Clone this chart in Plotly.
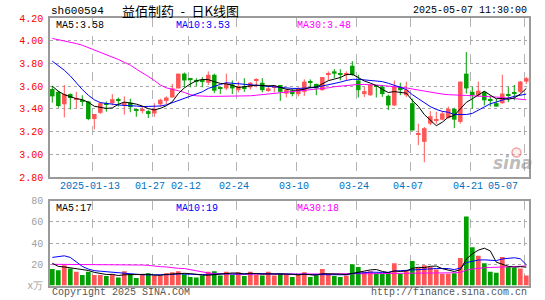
import plotly.graph_objects as go

dates = ["2025-01-02","2025-01-03","2025-01-06","2025-01-07","2025-01-08","2025-01-09","2025-01-10","2025-01-13","2025-01-14","2025-01-15",
 "2025-01-16","2025-01-17","2025-01-20","2025-01-21","2025-01-22","2025-01-23","2025-01-24","2025-01-27","2025-02-05","2025-02-06",
 "2025-02-07","2025-02-10","2025-02-11","2025-02-12","2025-02-13","2025-02-14","2025-02-17","2025-02-18","2025-02-19","2025-02-20",
 "2025-02-21","2025-02-24","2025-02-25","2025-02-26","2025-02-27","2025-02-28","2025-03-03","2025-03-04","2025-03-05","2025-03-06",
 "2025-03-07","2025-03-10","2025-03-11","2025-03-12","2025-03-13","2025-03-14","2025-03-17","2025-03-18","2025-03-19","2025-03-20",
 "2025-03-21","2025-03-24","2025-03-25","2025-03-26","2025-03-27","2025-03-28","2025-03-31","2025-04-01","2025-04-02","2025-04-03",
 "2025-04-07","2025-04-08","2025-04-09","2025-04-10","2025-04-11","2025-04-14","2025-04-15","2025-04-16","2025-04-17","2025-04-18",
 "2025-04-21","2025-04-22","2025-04-23","2025-04-24","2025-04-25","2025-04-28","2025-04-29","2025-04-30","2025-05-06","2025-05-07"]

opens = [3.575,3.55,3.44,3.53,3.48,3.48,3.465,3.31,3.365,3.445,
 3.45,3.475,3.44,3.455,3.395,3.38,3.38,3.36,3.44,3.47,
 3.50,3.58,3.71,3.66,3.645,3.645,3.63,3.70,3.585,3.58,
 3.615,3.565,3.595,3.59,3.65,3.63,3.565,3.59,3.61,3.535,
 3.56,3.53,3.55,3.635,3.62,3.565,3.70,3.73,3.705,3.70,
 3.78,3.65,3.53,3.52,3.60,3.595,3.515,3.43,3.595,3.52,
 3.45,3.17,3.11,3.27,3.30,3.305,3.32,3.40,3.285,3.71,
 3.55,3.52,3.55,3.475,3.45,3.45,3.525,3.54,3.55,3.64]

highs = [3.60,3.56,3.61,3.535,3.55,3.52,3.47,3.355,3.46,3.465,
 3.53,3.50,3.51,3.49,3.40,3.42,3.39,3.45,3.49,3.51,
 3.62,3.71,3.72,3.66,3.67,3.68,3.73,3.71,3.585,3.71,
 3.65,3.64,3.67,3.635,3.67,3.67,3.61,3.61,3.61,3.58,
 3.58,3.59,3.66,3.66,3.62,3.68,3.73,3.75,3.75,3.73,
 3.82,3.70,3.595,3.615,3.61,3.61,3.525,3.65,3.63,3.64,
 3.49,3.27,3.24,3.38,3.375,3.38,3.42,3.41,3.64,3.90,
 3.595,3.64,3.555,3.52,3.49,3.70,3.595,3.61,3.645,3.68]

lows = [3.455,3.41,3.325,3.395,3.405,3.425,3.30,3.22,3.355,3.375,
 3.43,3.42,3.35,3.37,3.33,3.36,3.32,3.33,3.42,3.44,
 3.50,3.58,3.59,3.59,3.60,3.59,3.61,3.54,3.53,3.565,
 3.53,3.545,3.55,3.57,3.59,3.545,3.55,3.545,3.47,3.50,
 3.51,3.51,3.515,3.59,3.52,3.56,3.65,3.67,3.65,3.645,
 3.69,3.50,3.505,3.515,3.50,3.505,3.39,3.425,3.52,3.505,
 3.21,3.08,2.93,3.255,3.27,3.30,3.315,3.23,3.27,3.535,
 3.40,3.505,3.43,3.42,3.42,3.445,3.46,3.475,3.535,3.62]

closes = [3.51,3.425,3.53,3.495,3.49,3.465,3.31,3.355,3.45,3.44,
 3.485,3.47,3.455,3.415,3.385,3.40,3.355,3.40,3.48,3.50,
 3.58,3.71,3.65,3.655,3.64,3.64,3.70,3.56,3.58,3.62,
 3.58,3.60,3.58,3.63,3.655,3.565,3.58,3.60,3.55,3.565,
 3.53,3.58,3.64,3.63,3.58,3.68,3.71,3.71,3.70,3.705,
 3.70,3.565,3.556,3.61,3.595,3.53,3.43,3.595,3.565,3.57,
 3.21,3.175,3.23,3.335,3.31,3.36,3.40,3.305,3.64,3.58,
 3.52,3.56,3.475,3.47,3.42,3.535,3.52,3.535,3.64,3.67]

ma5 = [3.60,3.555,3.525,3.505,3.49,3.481,3.458,3.423,3.414,3.404,
 3.408,3.44,3.46,3.453,3.442,3.425,3.402,3.391,3.404,3.427,
 3.463,3.534,3.584,3.619,3.647,3.659,3.657,3.639,3.624,3.62,
 3.608,3.588,3.592,3.602,3.609,3.606,3.602,3.606,3.59,3.572,
 3.565,3.565,3.573,3.589,3.592,3.622,3.648,3.662,3.676,3.701,
 3.705,3.676,3.645,3.627,3.605,3.571,3.544,3.552,3.543,3.538,
 3.474,3.423,3.35,3.304,3.252,3.282,3.327,3.342,3.403,3.457,
 3.489,3.521,3.555,3.521,3.489,3.492,3.484,3.496,3.53,3.58]

ma10 = [3.82,3.78,3.74,3.69,3.63,3.57,3.52,3.48,3.455,3.447,
 3.44,3.435,3.43,3.43,3.425,3.42,3.42,3.42,3.425,3.435,
 3.455,3.47,3.49,3.51,3.53,3.55,3.58,3.60,3.615,3.63,
 3.625,3.62,3.615,3.61,3.61,3.605,3.60,3.595,3.59,3.585,
 3.58,3.58,3.58,3.585,3.59,3.60,3.61,3.62,3.635,3.65,
 3.66,3.66,3.655,3.655,3.65,3.64,3.625,3.61,3.59,3.57,
 3.525,3.49,3.455,3.42,3.395,3.378,3.37,3.35,3.35,3.35,
 3.36,3.39,3.42,3.445,3.46,3.48,3.495,3.51,3.52,3.53]

ma30 = [4.02,4.01,4.00,3.99,3.975,3.96,3.94,3.92,3.90,3.88,
 3.855,3.835,3.81,3.785,3.75,3.72,3.685,3.65,3.61,3.585,
 3.575,3.56,3.545,3.525,3.515,3.51,3.51,3.51,3.51,3.51,
 3.51,3.51,3.512,3.515,3.52,3.525,3.535,3.54,3.545,3.55,
 3.555,3.56,3.565,3.565,3.57,3.575,3.585,3.595,3.60,3.61,
 3.615,3.615,3.615,3.615,3.61,3.605,3.60,3.60,3.595,3.585,
 3.575,3.565,3.555,3.545,3.535,3.53,3.525,3.52,3.52,3.518,
 3.516,3.515,3.51,3.507,3.504,3.50,3.495,3.49,3.485,3.48]

volumes = [15.5,14.5,19,16,13,10,13,10,10,9,
 10.5,7.5,13.5,10.5,7,10.5,11.5,9.5,9.5,11.5,
 12.5,13.5,10.5,8,7.5,9.5,13,13.5,9.5,13,
 10,12.5,9,13,10,9.5,13,9.5,11.5,10.5,
 8,10.5,12.5,8,9.5,15.5,10.5,9,8,9.5,
 20,17.5,13,13.5,11.5,11,11.5,21,11,14,
 23,17,19,17.5,15,11,11,11.5,26,65,
 36,28,21,13,12,27,17.5,16.5,16,9.5]

vma5 = [21,18,17.5,16.5,15.6,14.5,14.2,12.4,11.2,10.4,
 10.5,9.4,10.1,10.2,9.8,9.8,10.6,9.8,9.6,10.5,
 10.9,11.3,11.5,11.2,10.4,9.8,9.7,10.3,10.6,11.7,
 11.8,11.7,10.8,11.5,10.9,10.8,10.9,11.0,10.7,10.8,
 10.5,10.0,10.6,9.9,9.7,11.2,11.2,10.5,10.5,10.5,
 11.4,12.8,13.6,14.7,15.1,13.3,12.1,13.7,13.2,13.7,
 16.1,17.2,16.8,18.1,18.3,15.9,14.7,13.2,14.9,24.9,
 29.9,33.3,35.2,32.6,22.0,20.2,18.1,17.2,17.8,17.3]

vma10 = [26.5,27.5,28,26.5,22.5,18,15.5,14,13.5,13.0,
 12.5,11.8,11.25,10.7,10.1,10.15,10.0,9.95,9.9,10.15,
 10.35,10.95,10.65,10.4,10.45,10.35,10.5,10.9,10.9,11.05,
 10.8,10.7,10.55,11.05,11.3,11.3,11.3,10.9,11.1,10.85,
 10.65,10.45,10.8,10.3,10.25,10.85,10.6,10.55,10.2,10.1,
 11.3,12.0,12.05,12.6,12.8,12.35,12.45,13.65,13.95,14.4,
 14.7,14.65,15.25,15.65,16.0,16.0,15.95,15.0,16.5,21.6,
 22.9,24.0,24.2,23.75,23.45,25.05,25.7,26.2,25.2,19.65]

vma30 = [20,20,20,20,20,20,20,20,20,20,
 20,20,19.6,19.5,19.4,19.3,19.0,18.2,17.8,17.5,
 16.6,16.2,16.0,15.0,13.5,12.5,11.8,11.3,11.0,10.9,
 10.8,10.7,10.6,10.6,10.5,10.5,10.5,10.5,10.5,10.5,
 10.5,10.5,10.5,10.5,10.5,10.5,10.5,10.5,10.5,10.6,
 10.8,10.9,11.0,11.1,11.2,11.3,11.3,11.4,11.4,11.4,
 11.5,11.5,11.5,11.6,11.6,11.7,11.8,12.0,12.3,14.5,
 15.5,16.3,16.8,17.0,17.1,17.4,17.6,17.8,18.1,18.55]

tick_dates = ["2025-01-13","2025-01-27","2025-02-12","2025-02-24","2025-03-10","2025-03-24","2025-04-07","2025-04-21","2025-05-07"]
tick_text = ["2025-01-13","01-27","02-12","02-24","03-10","03-24","04-07","04-21","05-07"]
price_ticks = [2.80,3.00,3.20,3.40,3.60,3.80,4.00,4.20]
vol_ticks = [0,20,40,60,80]
vol_tick_text = ["x万","20","40","60","80"]

stock_code = "sh600594"
title_text = "益佰制药\u2002-\u2002日K线图"
time_text = "2025-05-07 11:30:00"

RED = "#FF5555"
GREEN = "#00A000"
W, H = 545, 300
MONO = "Liberation Mono, DejaVu Sans Mono, monospace"

def px(x):
    return x / W

def py(y):
    return 1 - y / H

idx = list(range(len(dates)))
up = [c >= o for o, c in zip(opens, closes)]

fig = go.Figure()

# wicks
for flag, col in ((True, RED), (False, GREEN)):
    wx, wy = [], []
    for i in idx:
        if up[i] == flag:
            wx += [i, i, None]
            wy += [lows[i], highs[i], None]
    fig.add_trace(go.Scatter(x=wx, y=wy, mode="lines", line=dict(color=col, width=1),
                             hoverinfo="skip", showlegend=False, xaxis="x", yaxis="y"))

# bodies
for flag, col in ((True, RED), (False, GREEN)):
    bx = [i for i in idx if up[i] == flag]
    base = [min(opens[i], closes[i]) for i in bx]
    hgt = [max(abs(closes[i] - opens[i]), 0.009) for i in bx]
    fig.add_trace(go.Bar(x=bx, y=hgt, base=base, width=0.75, marker=dict(color=col, line=dict(width=0)),
                         hoverinfo="skip", showlegend=False, xaxis="x", yaxis="y"))

for series, col in ((ma30, "#FF00FF"), (ma10, "#0000FF"), (ma5, "#000000")):
    fig.add_trace(go.Scatter(x=idx, y=series, mode="lines", line=dict(color=col, width=1),
                             hoverinfo="skip", showlegend=False, xaxis="x", yaxis="y"))

# volume
for flag, col in ((True, RED), (False, GREEN)):
    bx = [i for i in idx if up[i] == flag]
    fig.add_trace(go.Bar(x=bx, y=[volumes[i] for i in bx], width=0.78,
                         marker=dict(color=col, line=dict(width=0)),
                         hoverinfo="skip", showlegend=False, xaxis="x2", yaxis="y2"))

for series, col in ((vma30, "#FF00FF"), (vma10, "#0000FF"), (vma5, "#000000")):
    fig.add_trace(go.Scatter(x=idx, y=series, mode="lines", line=dict(color=col, width=1),
                             hoverinfo="skip", showlegend=False, xaxis="x2", yaxis="y2"))

grid_pos = [dates.index(d) - 0.33 for d in tick_dates]
xrange = [-0.383, 79.45]
xdom = [px(50), px(529)]

xcommon = dict(domain=xdom, range=xrange, tickvals=grid_pos, showticklabels=False,
               showgrid=True, griddash="dash", gridcolor="#B4B4B4", gridwidth=1,
               showline=True, mirror=True, linecolor="#9A9A9A", linewidth=1.5,
               zeroline=False, ticks="", automargin=False, fixedrange=True)

fig.update_layout(
    width=W, height=H,
    margin=dict(l=0, r=0, t=0, b=0),
    paper_bgcolor="white", plot_bgcolor="white",
    template="none",
    showlegend=False,
    barmode="overlay",
    xaxis=dict(anchor="y", **xcommon),
    xaxis2=dict(anchor="y2", matches="x", **xcommon),
    yaxis=dict(domain=[py(177), py(18)], range=[2.80, 4.20], anchor="x",
               tickvals=price_ticks, ticktext=["%.2f" % v for v in price_ticks],
               tickfont=dict(family=MONO, size=10, color="#FF0000"),
               showgrid=True, griddash="dot", gridcolor="#A8A8A8", gridwidth=1,
               showline=True, mirror=True, linecolor="#9A9A9A", linewidth=1.5,
               zeroline=False, ticks="", ticklabelstandoff=3, automargin=False, fixedrange=True),
    yaxis2=dict(domain=[py(285.5), py(200.7)], range=[0, 80], anchor="x2",
                tickvals=vol_ticks, ticktext=vol_tick_text,
                tickfont=dict(family=MONO, size=10, color="#A0A0A0"),
                showgrid=True, griddash="dot", gridcolor="#A8A8A8", gridwidth=1,
                showline=True, mirror=True, linecolor="#9A9A9A", linewidth=1.5,
                zeroline=False, ticks="", ticklabelstandoff=3, automargin=False, fixedrange=True),
)

ann = []
def text(x, y, s, color="#000", size=10, family=MONO, xanchor="left", **kw):
    ann.append(dict(x=px(x), y=py(y), xref="paper", yref="paper", text=s, showarrow=False,
                    xanchor=xanchor, yanchor="middle", font=dict(family=family, size=size, color=color), **kw))

text(49, 11, stock_code, size=11)
text(120, 11, title_text, size=13, family="Noto Sans CJK SC")
text(529, 11, time_text, xanchor="right")
text(54, 25, "MA5:%.2f" % ma5[-1])
text(174, 25, "MA10:%.2f" % ma10[-1], color="#0000FF")
text(295, 25, "MA30:%.2f" % ma30[-1], color="#FF00FF")
text(54, 208, "MA5:%d" % int(vma5[-1]))
text(174, 208, "MA10:%d" % int(vma10[-1]), color="#0000FF")
text(295, 208, "MA30:%d" % int(vma30[-1]), color="#FF00FF")
text(50, 292, "Copyright 2025 SINA.COM", color="#555555")
text(529, 292, "http://finance.sina.com.cn", color="#555555", xanchor="right")

for d, t in zip(tick_dates, tick_text):
    i = dates.index(d)
    last = (i == len(dates) - 1)
    ann.append(dict(x=(i - 1.05) if last else (i - 0.67), y=py(186), xref="x", yref="paper",
                    text=t, showarrow=False, xanchor="right" if last else "center", yanchor="middle",
                    font=dict(family=MONO, size=10, color="#0070C0")))

ann.append(dict(x=px(513), y=py(163), xref="paper", yref="paper", text="<b><i>sina</i></b>",
                showarrow=False, xanchor="center", yanchor="middle",
                font=dict(family="DejaVu Sans", size=17, color="rgba(130,130,130,0.55)")))

fig.update_layout(annotations=ann, shapes=[
    dict(type="circle", xref="paper", yref="paper",
         x0=px(512), x1=px(521), y0=py(157), y1=py(148),
         line=dict(color="rgba(230,80,80,0.5)", width=1.5), fillcolor="rgba(255,200,200,0.3)"),
])
fig.write_html("out.html")
